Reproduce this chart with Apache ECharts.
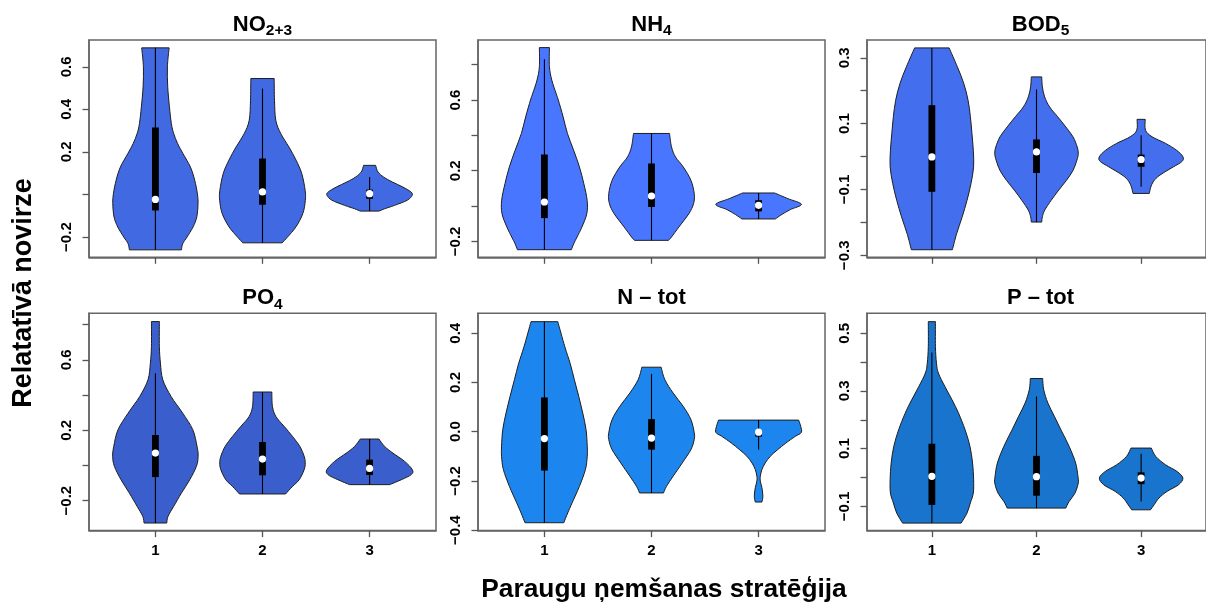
<!DOCTYPE html>
<html><head><meta charset="utf-8">
<script src="https://cdn.jsdelivr.net/npm/echarts@6/dist/echarts.min.js"></script>
<style>html,body{margin:0;padding:0;background:#fff}#c{width:1206px;height:602px}</style>
</head><body><div id="c"></div><script>
// ---------- data ----------
const categories = [1, 2, 3];
const panelNames = ['NO', 'NH', 'BOD', 'PO', 'N \u2013 tot', 'P \u2013 tot'];
const panelSubs = ['2+3', '4', '5', '4', '', ''];
const panelColors = ['#4169E1', '#4876FF', '#436EEE', '#3A5FCD', '#1C86EE', '#1874CD'];
const yMin = [-0.295, -0.29, -0.306, -0.37, -0.402, -0.184];
const yMax = [0.726, 0.94, 0.354, 0.864, 0.481, 0.569];
const yTicks = [
  [-0.2, 0, 0.2, 0.4, 0.6],
  [-0.2, 0, 0.2, 0.4, 0.6, 0.8],
  [-0.3, -0.2, -0.1, 0, 0.1, 0.2, 0.3],
  [-0.2, 0, 0.2, 0.4, 0.6, 0.8],
  [-0.4, -0.2, 0, 0.2, 0.4],
  [-0.1, 0, 0.1, 0.2, 0.3, 0.4, 0.5]
];
const yTickLabels = [
  [-0.2, 0.2, 0.4, 0.6],
  [-0.2, 0.2, 0.6],
  [-0.3, -0.1, 0.1, 0.3],
  [-0.2, 0.2, 0.6],
  [-0.4, -0.2, 0, 0.2, 0.4],
  [-0.1, 0.1, 0.3, 0.5]
];

// violin outlines: y values (top→bottom) and half-widths (x units); boxes: [lower whisker, Q1, median, Q3, upper whisker]
const no23Y = [
  [0.689,0.600,0.506,0.412,0.333,0.286,0.239,0.192,0.129,0.067,0.004,-0.043,-0.106,-0.153,-0.200,-0.231,-0.260],
  [0.545,0.443,0.349,0.286,0.224,0.161,0.098,0.020,-0.027,-0.090,-0.153,-0.200,-0.227],
  [0.137,0.106,0.082,0.059,0.035,0.012,-0.004,-0.027,-0.051,-0.067,-0.078]
];
const no23W = [
  [0.128,0.112,0.115,0.131,0.149,0.171,0.208,0.258,0.327,0.367,0.392,0.398,0.386,0.351,0.295,0.255,0.243],
  [0.109,0.112,0.124,0.171,0.246,0.314,0.367,0.398,0.400,0.376,0.311,0.233,0.184],
  [0.056,0.078,0.131,0.212,0.311,0.386,0.398,0.351,0.233,0.140,0.087]
];
const no23Box = [[-0.260,-0.075,-0.023,0.315,0.689],[-0.227,-0.048,0.012,0.169,0.498],[-0.078,-0.020,0.004,0.023,0.082]];

const nh4Y = [
  [0.897,0.789,0.713,0.638,0.600,0.505,0.411,0.316,0.222,0.127,0.033,-0.043,-0.119,-0.175,-0.213,-0.247],
  [0.411,0.335,0.278,0.222,0.146,0.070,0.014,-0.043,-0.119,-0.175,-0.194],
  [0.074,0.042,0.010,-0.020,-0.047,-0.073]
];
const nh4W = [
  [0.047,0.047,0.069,0.109,0.130,0.175,0.215,0.273,0.327,0.368,0.399,0.396,0.350,0.305,0.274,0.252],
  [0.168,0.187,0.224,0.296,0.368,0.399,0.393,0.349,0.255,0.187,0.159],
  [0.150,0.274,0.400,0.296,0.218,0.156]
];
const nh4Box = [[-0.247,-0.068,0.023,0.292,0.831],[-0.194,-0.005,0.057,0.241,0.411],[-0.073,-0.030,0.004,0.033,0.074]];

const bod5Y = [
  [0.330,0.273,0.222,0.171,0.121,0.070,0.019,-0.031,-0.082,-0.133,-0.183,-0.234,-0.283],
  [0.242,0.212,0.181,0.151,0.121,0.090,0.060,0.029,0.009,-0.011,-0.042,-0.072,-0.102,-0.133,-0.163,-0.183,-0.199],
  [0.113,0.080,0.060,0.040,0.019,-0.001,-0.015,-0.031,-0.046,-0.062,-0.077,-0.092,-0.112]
];
const bod5W = [
  [0.165,0.243,0.305,0.346,0.368,0.383,0.396,0.399,0.374,0.336,0.290,0.237,0.196],
  [0.050,0.056,0.078,0.125,0.202,0.280,0.349,0.389,0.399,0.386,0.349,0.287,0.212,0.140,0.078,0.056,0.050],
  [0.039,0.042,0.105,0.234,0.340,0.400,0.390,0.310,0.230,0.156,0.115,0.093,0.078]
];
const bod5Box = [[-0.283,-0.107,-0.001,0.156,0.330],[-0.199,-0.050,0.014,0.052,0.204],[-0.092,-0.031,-0.009,0.006,0.065]];

const po4Y = [
  [0.817,0.676,0.581,0.487,0.392,0.297,0.203,0.108,0.052,-0.005,-0.081,-0.157,-0.232,-0.289,-0.327],
  [0.417,0.335,0.278,0.222,0.165,0.108,0.052,0.014,-0.024,-0.081,-0.119,-0.162],
  [0.150,0.108,0.070,0.023,-0.024,-0.052,-0.081,-0.109]
];
const po4W = [
  [0.037,0.037,0.047,0.069,0.146,0.255,0.349,0.389,0.399,0.383,0.321,0.243,0.171,0.118,0.106],
  [0.087,0.093,0.125,0.202,0.280,0.349,0.389,0.399,0.389,0.343,0.280,0.215],
  [0.087,0.140,0.218,0.327,0.399,0.389,0.296,0.187]
];
const po4Box = [[-0.327,-0.066,0.070,0.173,0.524],[-0.162,-0.056,0.036,0.133,0.417],[-0.109,-0.054,-0.017,0.033,0.150]];

const ntotY = [
  [0.447,0.346,0.278,0.211,0.143,0.076,0.008,-0.059,-0.100,-0.154,-0.222,-0.289,-0.330,-0.370],
  [0.262,0.211,0.157,0.103,0.049,-0.005,-0.032,-0.073,-0.127,-0.181,-0.222,-0.249],
  [0.047,0.022,-0.003,-0.019,-0.046,-0.073,-0.100,-0.127,-0.154,-0.181,-0.201,-0.228,-0.262,-0.286]
];
const ntotW = [
  [0.125,0.190,0.240,0.280,0.321,0.358,0.389,0.400,0.400,0.383,0.327,0.259,0.218,0.181],
  [0.090,0.125,0.202,0.296,0.368,0.399,0.399,0.368,0.287,0.202,0.140,0.112],
  [0.374,0.393,0.399,0.343,0.255,0.178,0.109,0.062,0.031,0.016,0.016,0.031,0.040,0.031]
];
const ntotBox = [[-0.370,-0.158,-0.028,0.139,0.447],[-0.249,-0.073,-0.026,0.051,0.235],[-0.073,-0.020,-0.002,0.002,0.047]];

const ptotY = [
  [0.540,0.454,0.396,0.362,0.315,0.269,0.223,0.165,0.108,0.050,-0.008,-0.054,-0.088,-0.123,-0.158],
  [0.343,0.304,0.258,0.212,0.165,0.108,0.050,0.004,-0.019,-0.054,-0.083,-0.106],
  [0.102,0.073,0.044,0.021,-0.002,-0.025,-0.048,-0.071,-0.094,-0.112]
];
const ptotW = [
  [0.034,0.034,0.044,0.062,0.125,0.193,0.255,0.318,0.364,0.389,0.399,0.396,0.368,0.336,0.280],
  [0.059,0.069,0.109,0.171,0.234,0.312,0.374,0.396,0.399,0.368,0.312,0.280],
  [0.097,0.140,0.234,0.343,0.399,0.358,0.249,0.171,0.125,0.090]
];
const ptotBox = [[-0.158,-0.095,0.004,0.117,0.433],[-0.106,-0.063,0.003,0.075,0.281],[-0.083,-0.023,-0.002,0.018,0.082]];

const xAxisTitle = 'Paraugu ņemšanas stratēģija';
const yAxisTitle = 'Relatatīvā novirze';

// ---------- layout ----------
const panelsY = [no23Y, nh4Y, bod5Y, po4Y, ntotY, ptotY];
const panelsW = [no23W, nh4W, bod5W, po4W, ntotW, ptotW];
const panelsBox = [no23Box, nh4Box, bod5Box, po4Box, ntotBox, ptotBox];
const FONT = 'Liberation Sans';
const colLeft = [89, 478, 867];
const rowTop = [40, 313.3];
const PW = 347, PH = 217.3;
const frameColor = '#666666';
const tickFont = 15;

function smoothSeg(pts) {
  let d = '';
  for (let i = 0; i < pts.length - 1; i++) {
    const p0 = pts[Math.max(i - 1, 0)], p1 = pts[i], p2 = pts[i + 1], p3 = pts[Math.min(i + 2, pts.length - 1)];
    const c1x = p1[0] + (p2[0] - p0[0]) / 6, c1y = p1[1] + (p2[1] - p0[1]) / 6;
    const c2x = p2[0] - (p3[0] - p1[0]) / 6, c2y = p2[1] - (p3[1] - p1[1]) / 6;
    d += ' C' + c1x.toFixed(2) + ',' + c1y.toFixed(2) + ' ' + c2x.toFixed(2) + ',' + c2y.toFixed(2) + ' ' + p2[0].toFixed(2) + ',' + p2[1].toFixed(2);
  }
  return d;
}
function fmtTick(v) {
  const s = Math.abs(Number(v)).toFixed(1);
  return Number(v) < -1e-9 ? '\u2212' + s : s;
}

const grids = [], xAxes = [], yAxes = [], series = [], graphics = [];
for (let p = 0; p < 6; p++) {
  const r = Math.floor(p / 3), c = p % 3;
  grids.push({ left: colLeft[c], top: rowTop[r], width: PW, height: PH, show: true,
    borderColor: frameColor, borderWidth: 1.5, backgroundColor: 'transparent', containLabel: false });
  xAxes.push({ gridIndex: p, type: 'value', min: 0.38, max: 3.62,
    axisLine: { show: true, onZero: false, lineStyle: { color: frameColor, width: 1.5 } },
    axisTick: { show: true, length: 6.5, customValues: categories, lineStyle: { color: '#555', width: 1.3 } },
    axisLabel: { show: r === 1, customValues: categories, margin: 13,
      fontSize: tickFont, fontWeight: 'bold', fontFamily: FONT, color: '#000' },
    splitLine: { show: false } });
  yAxes.push({ gridIndex: p, type: 'value', min: yMin[p], max: yMax[p],
    axisLine: { show: true, onZero: false, lineStyle: { color: frameColor, width: 1.5 } },
    axisTick: { show: true, length: 6.5, customValues: yTicks[p], lineStyle: { color: '#555', width: 1.3 } },
    axisLabel: { show: true, customValues: yTickLabels[p], rotate: 90, margin: 15,
      formatter: fmtTick,
      fontSize: tickFont, fontWeight: 'bold', fontFamily: FONT, color: '#000' },
    splitLine: { show: false } });
  const VY = panelsY[p], VW = panelsW[p], VB = panelsBox[p], col = panelColors[p];
  series.push({
    type: 'custom', xAxisIndex: p, yAxisIndex: p, silent: true, clip: false,
    data: categories.map((cat, j) => [cat, VB[j][2]]),
    renderItem: function (params, api) {
      const j = params.dataIndex;
      const x = api.value(0);
      const ys = VY[j], ws = VW[j], b = VB[j];
      const right = ys.map((y, k) => api.coord([x + ws[k], y]));
      const left = ys.map((y, k) => api.coord([x - ws[k], y])).reverse();
      const d = 'M' + right[0][0] + ',' + right[0][1] + smoothSeg(right) +
        ' L' + left[0][0] + ',' + left[0][1] + smoothSeg(left) + ' Z';
      const cx = api.coord([x, 0])[0];
      const pLo = api.coord([x, b[0]])[1], pQ1 = api.coord([x, b[1]])[1], pMed = api.coord([x, b[2]])[1],
        pQ3 = api.coord([x, b[3]])[1], pHi = api.coord([x, b[4]])[1];
      return { type: 'group', children: [
        { type: 'path', shape: { pathData: d }, style: { fill: col, stroke: '#1e1e1e', lineWidth: 1 } },
        { type: 'line', shape: { x1: cx, y1: pHi, x2: cx, y2: pLo }, style: { stroke: '#000', lineWidth: 1.1 } },
        { type: 'rect', shape: { x: cx - 3.4, y: pQ3, width: 6.8, height: pQ1 - pQ3 }, style: { fill: '#000' } },
        { type: 'circle', shape: { cx: cx, cy: pMed, r: 3.6 }, style: { fill: '#fff' } }
      ] };
    }
  });
  const tx = colLeft[c] + PW / 2;
  const ty = r === 0 ? 24.5 : 298.3;
  const txt = panelSubs[p] ? '{b|' + panelNames[p] + '}{s|' + panelSubs[p] + '}' : '{b|' + panelNames[p] + '}';
  graphics.push({ type: 'text', x: tx, y: ty, silent: true, style: {
    text: txt, x: 0, y: 0, align: 'center', verticalAlign: 'middle', textAlign: 'center', textVerticalAlign: 'middle',
    rich: {
      b: { fontSize: 22, fontWeight: 'bold', fontFamily: FONT, fill: '#000', color: '#000' },
      s: { fontSize: 15.5, fontWeight: 'bold', fontFamily: FONT, fill: '#000', color: '#000', padding: [12, 0, 0, 0] }
    } } });
}
graphics.push({ type: 'text', x: 664, y: 590, silent: true, style: {
  text: xAxisTitle, x: 0, y: 0, align: 'center', verticalAlign: 'middle', textAlign: 'center', textVerticalAlign: 'middle',
  fontSize: 26.3, fontWeight: 'bold', fontFamily: FONT, fill: '#000' } });
graphics.push({ type: 'text', x: 24, y: 293, rotation: Math.PI / 2, silent: true, style: {
  text: yAxisTitle, x: 0, y: 0, align: 'center', verticalAlign: 'middle', textAlign: 'center', textVerticalAlign: 'middle',
  fontSize: 27, fontWeight: 'bold', fontFamily: FONT, fill: '#000' } });

const chart = echarts.init(document.getElementById('c'), null, { renderer: 'canvas' });
chart.setOption({
  animation: false, backgroundColor: '#fff',
  grid: grids, xAxis: xAxes, yAxis: yAxes, series: series, graphic: graphics
});
</script></body></html>
